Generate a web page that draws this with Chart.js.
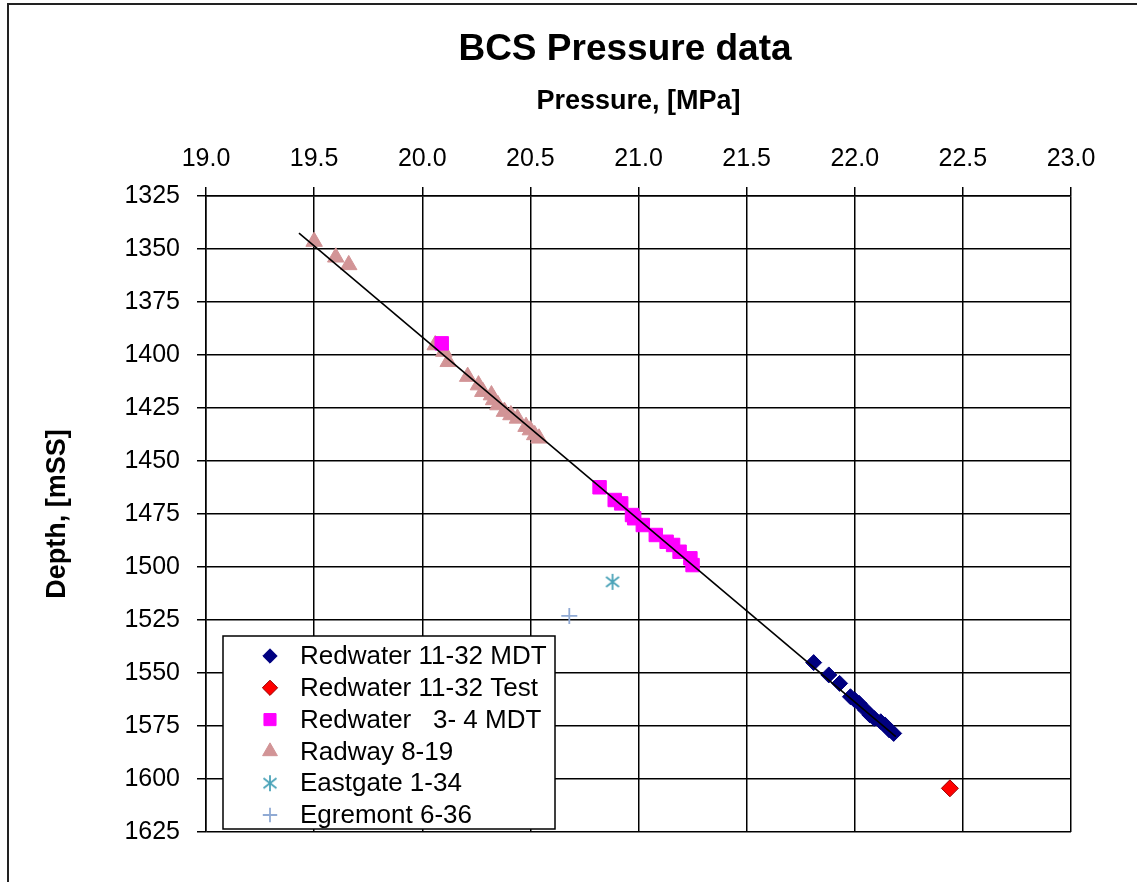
<!DOCTYPE html>
<html>
<head>
<meta charset="utf-8">
<script src="https://cdn.jsdelivr.net/npm/chart.js@4.4.1/dist/chart.umd.min.js"></script>
<style>
  html, body { margin: 0; padding: 0; background: #fff; }
  #wrap { width: 1137px; height: 882px; }
</style>
</head>
<body>
<div id="wrap"><canvas id="chart" width="1137" height="882"></canvas></div>
<script>
// axis ticks
const xTickValues = [19.0, 19.5, 20.0, 20.5, 21.0, 21.5, 22.0, 22.5, 23.0];
const yTickValues = [1325, 1350, 1375, 1400, 1425, 1450, 1475, 1500, 1525, 1550, 1575, 1600, 1625];

// Redwater 11-32 MDT
const rw1132MdtP = [21.81, 21.88, 21.93, 21.98, 22.00, 22.02, 22.05, 22.07, 22.09, 22.12, 22.14, 22.16, 22.18];
const rw1132MdtD = [1545.1, 1550.9, 1554.9, 1561.2, 1562.7, 1564.3, 1567.5, 1569.8, 1571.4, 1573.0, 1574.5, 1576.9, 1578.5];

// Redwater 11-32 Test
const rw1132TestP = [22.44];
const rw1132TestD = [1604.4];

// Redwater 3-4 MDT
const rw34MdtP = [20.09, 20.82, 20.89, 20.92, 20.97, 20.98, 21.02, 21.08, 21.13, 21.16, 21.19, 21.24, 21.25];
const rw34MdtD = [1394.5, 1462.4, 1468.4, 1470.0, 1475.5, 1477.0, 1480.2, 1484.9, 1488.1, 1489.6, 1492.8, 1495.9, 1499.1];

// Radway 8-19
const radwayP = [19.50, 19.60, 19.66, 20.06, 20.10, 20.12, 20.21, 20.26, 20.28, 20.32, 20.33, 20.35, 20.38, 20.41, 20.44, 20.48, 20.50, 20.52, 20.54];
const radwayD = [1346.5, 1353.9, 1357.5, 1395.3, 1398.4, 1403.2, 1410.2, 1414.2, 1417.3, 1418.9, 1421.2, 1423.6, 1426.7, 1428.3, 1429.9, 1433.8, 1435.4, 1437.7, 1439.3];

// Eastgate 1-34, Egremont 6-36
const eastgateP = [20.88];
const eastgateD = [1507.0];
const egremontP = [20.68];
const egremontD = [1523.1];

// trend line end points
const trendP = [19.43, 22.19];
const trendD = [1342.5, 1580.0];

const FONT = "'Liberation Sans', Arial, sans-serif";
const TITLE = "BCS Pressure data";

function toPoints(ps, ds) {
  return ps.map((p, i) => ({ x: p, y: ds[i] }));
}

// Excel-style asterisk marker (X with a vertical bar)
function makeAsterisk(color) {
  const c = document.createElement("canvas");
  c.width = 18; c.height = 18;
  const g = c.getContext("2d");
  g.strokeStyle = color;
  g.lineWidth = 1.8;
  g.beginPath();
  g.moveTo(9, 1); g.lineTo(9, 17);
  g.moveTo(2.5, 4); g.lineTo(15.5, 14);
  g.moveTo(15.5, 4); g.lineTo(2.5, 14);
  g.stroke();
  return c;
}

// white page, outer frame and the chart title
const frame = {
  id: "frame",
  beforeDraw(chart) {
    const ctx = chart.ctx;
    ctx.save();
    ctx.fillStyle = "#fff";
    ctx.fillRect(0, 0, chart.width, chart.height);
    ctx.strokeStyle = "#222";
    ctx.lineWidth = 2;
    ctx.strokeRect(8, 4, chart.width + 20, chart.height + 20);
    ctx.fillStyle = "#000";
    ctx.font = "bold 37px " + FONT;
    ctx.textAlign = "center";
    ctx.textBaseline = "middle";
    ctx.fillText(TITLE, 625, 50);
    ctx.restore();
  }
};

// legend box inside the plot, lower left
const boxLegend = {
  id: "boxLegend",
  afterDraw(chart) {
    const { ctx, chartArea } = chart;
    const x0 = chartArea.left + 17, y1 = chartArea.bottom - 3;
    const w = 332, h = 193, y0 = y1 - h;
    ctx.save();
    ctx.fillStyle = "#fff";
    ctx.fillRect(x0, y0, w, h);
    ctx.strokeStyle = "#000";
    ctx.lineWidth = 1.5;
    ctx.strokeRect(x0, y0, w, h);
    ctx.beginPath();
    ctx.rect(x0, y0, w, h);
    ctx.clip();
    const items = chart.data.datasets.filter(d => !d.hideInLegend);
    items.forEach((ds, i) => {
      const cy = y0 + 20 + i * 31.8;
      const opts = {
        pointStyle: ds.pointStyle,
        radius: ds.pointRadius * 0.9,
        borderWidth: ds.pointBorderWidth || 1
      };
      ctx.fillStyle = ds.pointBackgroundColor;
      ctx.strokeStyle = ds.pointBorderColor;
      ctx.lineWidth = opts.borderWidth;
      Chart.helpers.drawPoint(ctx, opts, x0 + 47, cy);
      ctx.fillStyle = "#000";
      ctx.font = "26px " + FONT;
      ctx.textBaseline = "middle";
      ctx.textAlign = "left";
      ctx.fillText(ds.label, x0 + 77, cy + 1);
    });
    ctx.restore();
  }
};

function markerSet(label, ps, ds, style, color, radius, border, bw) {
  return {
    label: label,
    data: toPoints(ps, ds),
    showLine: false,
    pointStyle: style,
    pointRadius: radius,
    pointHoverRadius: radius,
    pointBackgroundColor: color,
    pointBorderColor: border || color,
    pointBorderWidth: bw || 1,
    order: 1
  };
}

new Chart(document.getElementById("chart").getContext("2d"), {
  type: "scatter",
  data: {
    datasets: [
      {
        label: "trend",
        data: toPoints(trendP, trendD),
        showLine: true,
        borderColor: "#000",
        borderWidth: 1.6,
        pointRadius: 0,
        fill: false,
        hideInLegend: true,
        order: 0
      },
      markerSet("Redwater 11-32 MDT", rw1132MdtP, rw1132MdtD, "rectRot", "#000080", 8),
      markerSet("Redwater 11-32 Test", rw1132TestP, rw1132TestD, "rectRot", "#FF0000", 8.5, "#990000", 1),
      markerSet("Redwater   3- 4 MDT", rw34MdtP, rw34MdtD, "rect", "#FF00FF", 9.5),
      markerSet("Radway 8-19", radwayP, radwayD, "triangle", "#D29496", 9.5),
      markerSet("Eastgate 1-34", eastgateP, eastgateD, makeAsterisk("#4BA3B8"), "#4BA3B8", 9),
      markerSet("Egremont 6-36", egremontP, egremontD, "cross", "#90AAD4", 8, "#90AAD4", 1.8)
    ]
  },
  options: {
    responsive: false,
    animation: false,
    layout: { padding: { left: 0, top: 0, right: 66, bottom: 50 } },
    plugins: {
      legend: { display: false },
      tooltip: { enabled: false },
      title: { display: false }
    },
    scales: {
      x: {
        type: "linear",
        position: "top",
        min: 19,
        max: 23,
        afterBuildTicks: s => { s.ticks = xTickValues.map(v => ({ value: v })); },
        afterFit: s => { s.height = 196; },
        ticks: {
          callback: v => Number(v).toFixed(1),
          color: "#000",
          font: { family: FONT, size: 25 },
          padding: 13,
          maxRotation: 0,
          autoSkip: false
        },
        grid: { color: "#000", lineWidth: 1.5, tickLength: 9 },
        border: { color: "#000", width: 1.5 },
        title: {
          display: true,
          text: "Pressure, [MPa]",
          color: "#000",
          font: { family: FONT, size: 27, weight: "bold" },
          padding: { top: 85, bottom: 0 }
        }
      },
      y: {
        type: "linear",
        reverse: true,
        min: 1325,
        max: 1625,
        afterBuildTicks: s => { s.ticks = yTickValues.map(v => ({ value: v })); },
        afterFit: s => { s.width = 206; },
        ticks: {
          callback: v => String(v),
          color: "#000",
          font: { family: FONT, size: 25 },
          padding: 17,
          autoSkip: false
        },
        grid: { color: "#000", lineWidth: 1.5, tickLength: 9 },
        border: { color: "#000", width: 1.5 },
        title: {
          display: true,
          text: "Depth, [mSS]",
          color: "#000",
          font: { family: FONT, size: 27, weight: "bold" },
          padding: { top: 41, bottom: 0 }
        }
      }
    }
  },
  plugins: [frame, boxLegend]
});
</script>
</body>
</html>
